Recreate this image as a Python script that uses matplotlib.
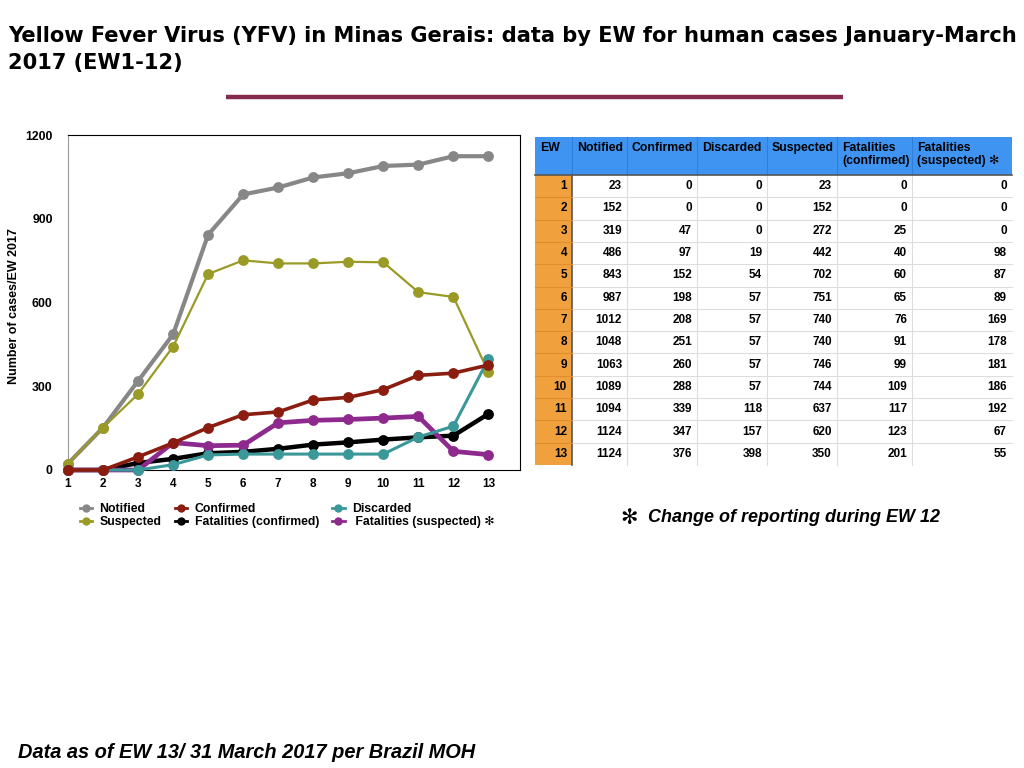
import matplotlib
matplotlib.use("Agg")
import matplotlib.pyplot as plt
from matplotlib.patches import Rectangle
from matplotlib.lines import Line2D

plt.rcParams['font.family'] = ['Liberation Sans', 'DejaVu Sans']

# ---------------- data ----------------
ew = [1, 2, 3, 4, 5, 6, 7, 8, 9, 10, 11, 12, 13]
notified = [23, 152, 319, 486, 843, 987, 1012, 1048, 1063, 1089, 1094, 1124, 1124]
confirmed = [0, 0, 47, 97, 152, 198, 208, 251, 260, 288, 339, 347, 376]
discarded = [0, 0, 0, 19, 54, 57, 57, 57, 57, 57, 118, 157, 398]
suspected = [23, 152, 272, 442, 702, 751, 740, 740, 746, 744, 637, 620, 350]
fat_confirmed = [0, 0, 25, 40, 60, 65, 76, 91, 99, 109, 117, 123, 201]
fat_suspected = [0, 0, 0, 98, 87, 89, 169, 178, 181, 186, 192, 67, 55]

table_headers = ["EW", "Notified", "Confirmed", "Discarded", "Suspected",
                 "Fatalities\n(confirmed)", "Fatalities\n(suspected) \u273b"]
y_ticks = [0, 300, 600, 900, 1200]

title_line1 = "Yellow Fever Virus (YFV) in Minas Gerais: data by EW for human cases January-March"
title_line2 = "2017 (EW1-12)"
y_label = "Number of cases/EW 2017"
note = "Change of reporting during EW 12"
footer = "Data as of EW 13/ 31 March 2017 per Brazil MOH"

W, H = 1024, 768
fig = plt.figure(figsize=(W / 100, H / 100), dpi=100)
fig.patch.set_facecolor("white")

def fx(px):
    return px / W

def fy(py):
    return 1 - py / H

# ---------------- title & rule ----------------
for txt, yb in ((title_line1, 42), (title_line2, 69)):
    fig.text(fx(8), fy(yb), txt, ha="left", va="baseline", fontsize=15.1,
             fontweight="bold", family=["DejaVu Sans"])
fig.add_artist(Line2D([fx(226), fx(843)], [fy(97), fy(97)], color="#862a4e",
                      lw=3.2, solid_capstyle="butt"))

# ---------------- chart ----------------
ax = fig.add_axes([fx(68), fy(470), fx(520) - fx(68), fy(135) - fy(470)])
styles = [
    (notified, "Notified", "#878787", 3.0, 0),
    (suspected, "Suspected", "#9a9a26", 1.6, 1),
    (fat_confirmed, "Fatalities (confirmed)", "#000000", 3.2, 2),
    (fat_suspected, "Fatalities (suspected) \u273b", "#8e2a8e", 3.4, 3),
    (discarded, "Discarded", "#3a9898", 2.2, 4),
    (confirmed, "Confirmed", "#8b1c10", 2.6, 5),
]
handles = {}
for vals, lab, col, lw, z in styles:
    h, = ax.plot(ew, vals, color=col, lw=lw, marker="o", markersize=7.8,
                 markeredgewidth=0, clip_on=False, zorder=3 + z, label=lab)
    handles[lab] = h
ax.set_xlim(1, 13.9)
ax.set_ylim(0, 1200)
ax.set_xticks(ew)
ax.set_xticklabels([str(v) for v in ew], fontsize=8.5, fontweight="bold")
ax.set_yticks(y_ticks)
ax.set_yticklabels([str(v) for v in y_ticks], fontsize=8.8, fontweight="bold")
ax.tick_params(axis="x", length=0, pad=6)
ax.tick_params(axis="y", length=0, pad=11)
for s in ax.spines.values():
    s.set_color("#000000")
    s.set_linewidth(0.8)
ax.spines["left"].set_color("#9a9a9a")
fig.text(fx(14), fy(306), y_label, rotation=90, ha="center", va="center",
         fontsize=9, fontweight="bold")

order = ["Notified", "Suspected", "Confirmed", "Fatalities (confirmed)",
         "Discarded", " Fatalities (suspected) \u273b"]
order_keys = ["Notified", "Suspected", "Confirmed", "Fatalities (confirmed)",
              "Discarded", "Fatalities (suspected) \u273b"]
leg_handles = [Line2D([], [], color=handles[k].get_color(), lw=2, marker="o",
                      markersize=6, markeredgewidth=0) for k in order_keys]
fig.legend(leg_handles, order, loc="upper left", bbox_to_anchor=(fx(80), fy(503)),
           ncol=3, frameon=False, prop={"weight": "bold", "size": 8.8},
           handlelength=1.0, handletextpad=0.6, columnspacing=1.1,
           labelspacing=0.12, borderaxespad=0, borderpad=0)

# ---------------- table ----------------
tax = fig.add_axes([0, 0, 1, 1])
tax.set_xlim(0, W)
tax.set_ylim(H, 0)
tax.axis("off")

col_edges = [535, 572, 627, 697, 767, 837, 912, 1012]
top, head_bot = 137, 175
row_h = (465 - head_bot) / len(ew)
blue = "#3f94f2"
orange = "#f0a03c"

tax.add_patch(Rectangle((col_edges[0], top), col_edges[-1] - col_edges[0],
                        head_bot - top, facecolor=blue, edgecolor="none"))
tax.add_patch(Rectangle((col_edges[0], head_bot), col_edges[1] - col_edges[0],
                        row_h * len(ew), facecolor=orange, edgecolor="none"))
for i, x in enumerate(col_edges[1:-1]):
    tax.plot([x, x], [top, head_bot], color="#2f7fd8", lw=0.8)
    tax.plot([x, x], [head_bot, head_bot + row_h * len(ew)],
             color="#555555" if i == 0 else "#dddddd",
             lw=1.2 if i == 0 else 0.8)
tax.plot([col_edges[0], col_edges[-1]], [head_bot, head_bot], color="#555555", lw=1.2)
for r in range(1, len(ew)):
    y = head_bot + r * row_h
    tax.plot([col_edges[1], col_edges[-1]], [y, y], color="#dddddd", lw=0.8)
    tax.plot([col_edges[0], col_edges[1]], [y, y], color="#e08e2c", lw=0.8)

for c, hdr in enumerate(table_headers):
    tax.text(col_edges[c] + 5, top + 5, hdr, ha="left", va="top", fontsize=8.8,
             fontweight="bold", linespacing=1.15)

table_cols = [ew, notified, confirmed, discarded, suspected, fat_confirmed, fat_suspected]
for r in range(len(ew)):
    yc = head_bot + (r + 0.5) * row_h
    for c, colvals in enumerate(table_cols):
        tax.text(col_edges[c + 1] - 5, yc, str(colvals[r]), ha="right", va="center",
                 fontsize=8.5, fontweight="bold")

# ---------------- notes ----------------
fig.text(fx(629), fy(518), "\u273b", ha="center", va="center", fontsize=15,
         family=["DejaVu Sans"])
fig.text(fx(648), fy(518), note, ha="left", va="center", fontsize=13,
         fontweight="bold", fontstyle="italic")
fig.text(fx(18), fy(752), footer, ha="left", va="center", fontsize=14.4,
         fontweight="bold", fontstyle="italic")

fig.savefig("out.png", dpi=100)
